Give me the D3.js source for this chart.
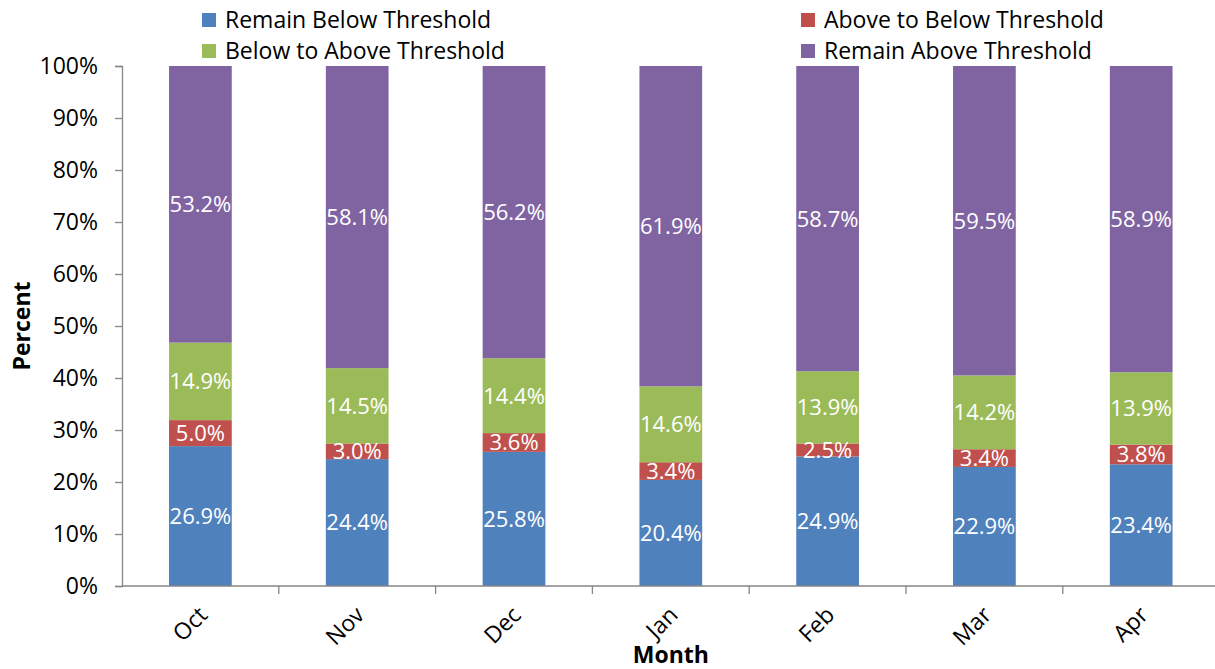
<!DOCTYPE html>
<html>
<head>
<meta charset="utf-8">
<script src="https://cdn.jsdelivr.net/npm/d3@7"></script>
<style>
  html, body { margin: 0; padding: 0; background: #fff; }
  svg { display: block; font-family: "Open Sans", sans-serif; }
</style>
</head>
<body>
<svg id="chart" width="1215" height="669"></svg>
<script>
// Monthly threshold transitions (percent of total)
const months = ["Oct", "Nov", "Dec", "Jan", "Feb", "Mar", "Apr"];
const remainBelow = [26.9, 24.4, 25.8, 20.4, 24.9, 22.9, 23.4];
const aboveToBelow = [5.0, 3.0, 3.6, 3.4, 2.5, 3.4, 3.8];
const belowToAbove = [14.9, 14.5, 14.4, 14.6, 13.9, 14.2, 13.9];
const remainAbove = [53.2, 58.1, 56.2, 61.9, 58.7, 59.5, 58.9];
const yTicks = [0, 10, 20, 30, 40, 50, 60, 70, 80, 90, 100];

const seriesNames = ["Remain Below Threshold", "Above to Below Threshold", "Below to Above Threshold", "Remain Above Threshold"];
const seriesValues = [remainBelow, aboveToBelow, belowToAbove, remainAbove];
const colors = ["#4F81BD", "#C0504D", "#9BBB59", "#8064A2"];

const FONT = 23;
const LABEL_FONT = 22;
const svg = d3.select("#chart");
const margin = { left: 122, top: 66, bottom: 586 };
const plotRight = 1219.6;

const x = d3.scaleBand().domain(months).range([margin.left, plotRight])
  .paddingInner(0.6).paddingOuter(0.3);
const y = d3.scaleLinear().domain([0, 100]).range([margin.bottom, margin.top]);

// Plot area clip (axis maximum is 100%)
svg.append("defs").append("clipPath").attr("id", "plot-clip")
  .append("rect").attr("x", margin.left).attr("y", margin.top)
  .attr("width", plotRight - margin.left).attr("height", margin.bottom - margin.top);

// Build stacked rows
const rows = months.map((m, i) => {
  const r = { month: m };
  seriesNames.forEach((s, k) => r[s] = seriesValues[k][i]);
  return r;
});
const stacked = d3.stack().keys(seriesNames)(rows);

const bars = svg.append("g").attr("clip-path", "url(#plot-clip)");
const labels = svg.append("g");
stacked.forEach((layer, k) => {
  bars.append("g").selectAll("rect").data(layer).join("rect")
    .attr("x", d => x(d.data.month))
    .attr("width", x.bandwidth())
    .attr("y", d => y(Math.min(100, d[1])))
    .attr("height", d => y(d[0]) - y(Math.min(100, d[1])))
    .attr("fill", colors[k]);
  labels.append("g").selectAll("text").data(layer).join("text")
    .attr("x", d => x(d.data.month) + x.bandwidth() / 2)
    .attr("y", d => (y(d[0]) + y(Math.min(100, d[1]))) / 2)
    .attr("dy", "0.36em")
    .attr("text-anchor", "middle")
    .attr("fill", "#fff")
    .attr("font-size", LABEL_FONT)
    .text(d => (d[1] - d[0]).toFixed(1) + "%");
});

// Y axis
const yAxis = d3.axisLeft(y).tickValues(yTicks).tickSize(7).tickPadding(17)
  .tickFormat(d => d + "%");
const ya = svg.append("g").attr("transform", `translate(${margin.left},0)`).call(yAxis);
ya.select(".domain").attr("stroke", "#868686").attr("stroke-width", 1.3);
ya.selectAll(".tick line").attr("stroke", "#868686").attr("stroke-width", 1.3);
ya.selectAll(".tick text").attr("font-size", FONT).attr("fill", "#000")
  .attr("font-family", "'Open Sans', sans-serif");

// X axis: tick marks at category boundaries
const gap = (x.step() - x.bandwidth()) / 2;
const xa = svg.append("g");
xa.append("line")
  .attr("x1", margin.left).attr("x2", plotRight)
  .attr("y1", margin.bottom).attr("y2", margin.bottom)
  .attr("stroke", "#868686").attr("stroke-width", 1.3);
xa.selectAll("line.tk").data(months.slice(1)).join("line").attr("class", "tk")
  .attr("x1", d => x(d) - gap)
  .attr("x2", d => x(d) - gap)
  .attr("y1", margin.bottom).attr("y2", margin.bottom + 8)
  .attr("stroke", "#868686").attr("stroke-width", 1.3);
xa.selectAll("text").data(months).join("text")
  .attr("transform", d => `translate(${x(d) + x.bandwidth() / 2 - 3},${margin.bottom + 19}) rotate(-45)`)
  .attr("text-anchor", "end")
  .attr("dy", "0.7em")
  .attr("font-size", FONT)
  .attr("fill", "#000")
  .text(d => d);

// Axis titles
svg.append("text")
  .attr("x", (margin.left + plotRight) / 2).attr("y", 663)
  .attr("text-anchor", "middle").attr("font-weight", "bold").attr("font-size", FONT)
  .text("Month");
svg.append("text")
  .attr("transform", `translate(30,${(margin.top + margin.bottom) / 2}) rotate(-90)`)
  .attr("text-anchor", "middle").attr("font-weight", "bold").attr("font-size", FONT)
  .text("Percent");

// Legend
const legendPos = [
  { x: 202, y: 20 },  // Remain Below
  { x: 801, y: 20 },  // Above to Below
  { x: 202, y: 51 },  // Below to Above
  { x: 801, y: 51 }   // Remain Above
];
seriesNames.forEach((s, k) => {
  const p = legendPos[k];
  const lg = svg.append("g").attr("transform", `translate(${p.x},${p.y})`);
  lg.append("rect").attr("x", 0).attr("y", -7).attr("width", 14).attr("height", 14).attr("fill", colors[k]);
  lg.append("text").attr("x", 23).attr("y", 0).attr("dy", "0.36em")
    .attr("font-size", FONT).attr("fill", "#000").text(s);
});
</script>
</body>
</html>
